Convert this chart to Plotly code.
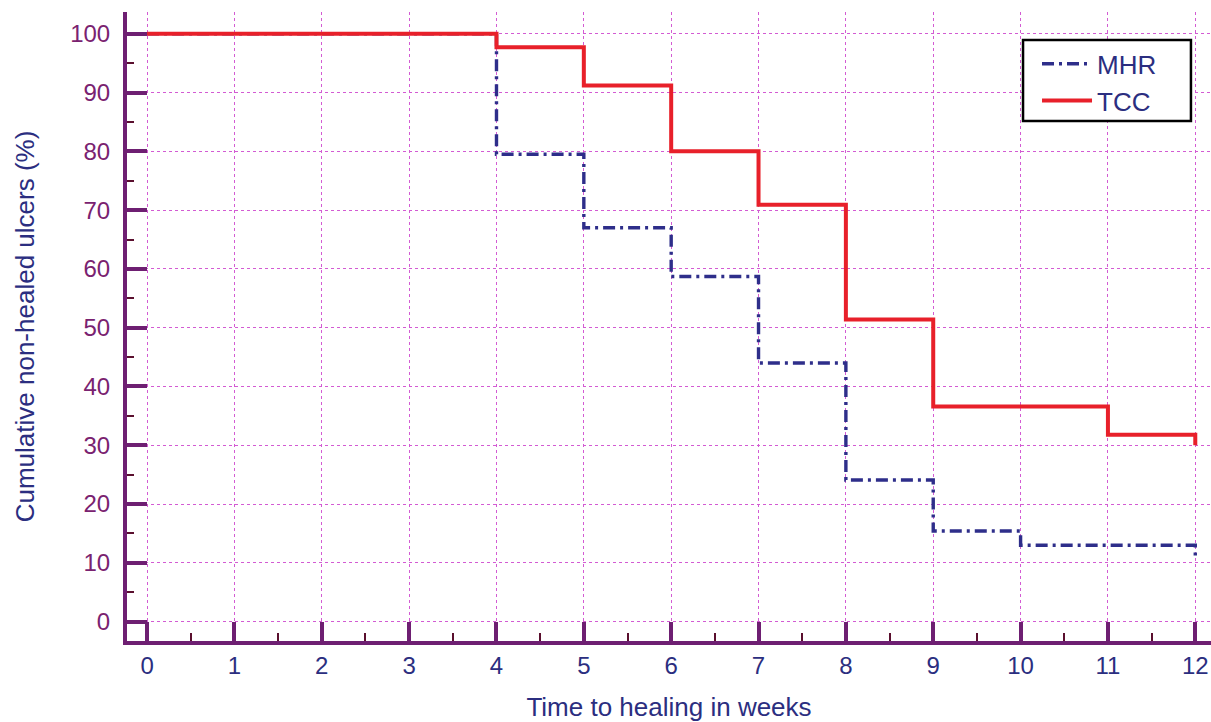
import plotly.graph_objects as go

weeks_mhr = [0, 1, 2, 3, 4, 4, 5, 6, 7, 8, 9, 10, 11, 12, 12]
mhr = [100, 100, 100, 100, 100, 79.5, 67.0, 58.7, 44.0, 24.1, 15.4, 13.0, 13.0, 13.0, 11.2]
weeks_tcc = [0, 1, 2, 3, 4, 5, 6, 7, 8, 9, 10, 11, 12, 12]
tcc = [100, 100, 100, 100, 97.7, 91.2, 80.0, 70.9, 51.4, 36.6, 36.6, 31.8, 31.8, 30.0]

x_ticks = list(range(0, 13))
y_ticks = list(range(0, 101, 10))

PURPLE = "#6E1F72"
NAVY = "#2B2E80"
GRID = "#D35BD3"

fig = go.Figure()
fig.add_trace(go.Scatter(x=weeks_mhr, y=mhr, name="MHR", mode="lines", line_shape="hv",
                         line=dict(color="#2E2E8A", width=3.4, dash="12px,5px,3px,5px")))
fig.add_trace(go.Scatter(x=weeks_tcc, y=tcc, name="TCC", mode="lines", line_shape="hv",
                         line=dict(color="#E8202A", width=4)))

# legend frame (paper coordinates)
fig.add_shape(type="rect", xref="paper", yref="paper",
              x0=0.8266, x1=0.9815, y0=0.8267, y1=0.9555,
              line=dict(color="black", width=2.5), fillcolor="white", layer="above")

fig.update_layout(
    width=1211, height=722,
    margin=dict(l=127, r=0, t=12, b=81),
    plot_bgcolor="white", paper_bgcolor="white",
    font=dict(family="Liberation Sans, Arial, sans-serif", size=24, color=NAVY),
    legend=dict(x=0.8395, y=0.955, xanchor="left", yanchor="top",
                borderwidth=0, bgcolor="rgba(0,0,0,0)",
                font=dict(size=26, color=NAVY), itemwidth=50, tracegroupgap=0),
    showlegend=True,
)
fig.update_xaxes(
    range=[-0.23, 12.18], tickvals=x_ticks, ticktext=[str(v) for v in x_ticks],
    showline=True, linewidth=4, linecolor=PURPLE,
    ticks="inside", ticklen=19, tickwidth=4, tickcolor=PURPLE,
    tickfont=dict(size=24, color=NAVY), ticklabelstandoff=0,
    showgrid=True, gridcolor=GRID, gridwidth=1, griddash="dot", zeroline=False,
    minor=dict(dtick=0.5, tick0=0, ticks="inside", ticklen=8, tickwidth=2, tickcolor="#5A0F2E", showgrid=False),
    title=dict(text="Time to healing in weeks", font=dict(size=26, color=NAVY), standoff=21),
)
fig.update_yaxes(
    range=[-3.3, 103.7], tickvals=y_ticks, ticktext=[str(v) for v in y_ticks],
    showline=True, linewidth=4, linecolor=PURPLE,
    ticks="inside", ticklen=20, tickwidth=4, tickcolor=PURPLE,
    tickfont=dict(size=24, color="#7A2270"), ticklabelstandoff=8,
    showgrid=True, gridcolor=GRID, gridwidth=1, griddash="dot", zeroline=False,
    minor=dict(dtick=5, tick0=0, ticks="inside", ticklen=7, tickwidth=2, tickcolor="#5A0F2E", showgrid=False),
    title=dict(text="Cumulative non-healed ulcers (%)", font=dict(size=26, color=NAVY), standoff=29),
)

fig.write_html("out.html", config={"displayModeBar": False},
               post_script="document.body.style.margin='0';")
